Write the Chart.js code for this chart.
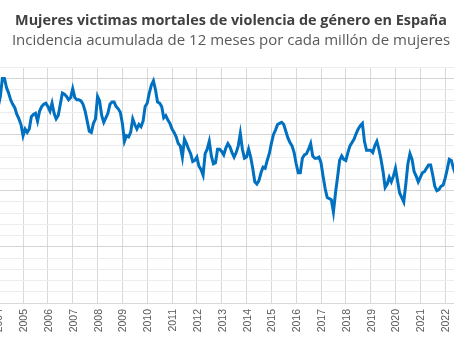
<!DOCTYPE html>
<html lang="es">
<head>
<meta charset="utf-8">
<script src="https://cdn.jsdelivr.net/npm/chart.js@4.4.1/dist/chart.umd.min.js"></script>
<style>
  html, body { margin: 0; padding: 0; background: #fff; }
  /* the reference is a crop of a wider chart: draw it wider and clip */
  #frame { position: relative; width: 454px; height: 341px; overflow: hidden; }
  #wrap { position: absolute; left: -39px; top: 0; width: 540px; height: 341px; }
  .anio {
    position: absolute; white-space: nowrap;
    font: 10.5px "Liberation Sans", Arial, sans-serif; line-height: 12px; color: #595959;
    transform-origin: 0 0; transform: rotate(-90deg) translate(-100%, -50%);
  }
</style>
</head>
<body>
<div id="frame"><div id="wrap"><canvas id="chart"></canvas></div></div>
<script>
const titulo = 'Mujeres victimas mortales de violencia de género en España';
const subtitulo = 'Incidencia acumulada de 12 meses por cada millón de mujeres';

// monthly series, first value = January 2004
const anioInicio = 2004;
const incidencia = [
  2.75, 2.84, 3.00, 3.00, 2.92, 2.87, 2.81, 2.77, 2.74, 2.68, 2.64, 2.59, // 2004
  2.49, 2.55, 2.52, 2.55, 2.66, 2.68, 2.69, 2.62, 2.71, 2.75, 2.77, 2.78, // 2005
  2.75, 2.71, 2.78, 2.69, 2.64, 2.67, 2.77, 2.87, 2.86, 2.84, 2.81, 2.83, // 2006
  2.91, 2.83, 2.81, 2.81, 2.80, 2.77, 2.71, 2.62, 2.53, 2.52, 2.60, 2.64, // 2007
  2.84, 2.80, 2.67, 2.61, 2.65, 2.69, 2.77, 2.79, 2.79, 2.75, 2.73, 2.70, // 2008
  2.60, 2.44, 2.49, 2.48, 2.52, 2.64, 2.59, 2.55, 2.59, 2.57, 2.62, 2.75, // 2009
  2.78, 2.87, 2.94, 2.98, 2.90, 2.79, 2.78, 2.75, 2.65, 2.67, 2.63, 2.60, // 2010
  2.55, 2.52, 2.48, 2.42, 2.40, 2.30, 2.46, 2.42, 2.37, 2.33, 2.26, 2.27, // 2011
  2.30, 2.22, 2.19, 2.14, 2.33, 2.37, 2.44, 2.31, 2.24, 2.25, 2.37, 2.37, // 2012
  2.35, 2.32, 2.38, 2.42, 2.39, 2.34, 2.30, 2.34, 2.40, 2.51, 2.37, 2.29, // 2013
  2.30, 2.37, 2.30, 2.20, 2.08, 2.06, 2.09, 2.16, 2.21, 2.20, 2.27, 2.33, // 2014
  2.42, 2.50, 2.54, 2.59, 2.60, 2.61, 2.59, 2.53, 2.47, 2.43, 2.40, 2.34, // 2015
  2.24, 2.16, 2.16, 2.29, 2.32, 2.33, 2.37, 2.42, 2.31, 2.29, 2.29, 2.30, // 2016
  2.25, 2.13, 2.02, 1.94, 1.93, 1.92, 1.81, 1.98, 2.12, 2.27, 2.31, 2.28, // 2017
  2.27, 2.34, 2.40, 2.43, 2.46, 2.51, 2.55, 2.58, 2.60, 2.44, 2.36, 2.36, // 2018
  2.36, 2.34, 2.40, 2.44, 2.37, 2.28, 2.17, 2.03, 2.06, 2.12, 2.08, 2.13, // 2019
  2.20, 2.09, 1.98, 1.94, 1.90, 2.06, 2.24, 2.33, 2.28, 2.17, 2.13, 2.08, // 2020
  2.12, 2.16, 2.17, 2.20, 2.23, 2.23, 2.14, 2.04, 2.00, 2.01, 2.04, 2.05, // 2021
  2.11, 2.19, 2.28, 2.27, 2.20, 2.15                                      // 2022
];

// axis ranges
const ejeX = { min: 2002.5, max: 2024.25, paso: 1 };
const ejeY = { min: 1.0, max: 3.1, paso: 0.1, mayor: 0.5 };

const puntos = incidencia.map((v, i) => ({ x: anioInicio + i / 12, y: v }));
const esMayor = v => Math.abs(v / ejeY.mayor - Math.round(v / ejeY.mayor)) < 1e-6;

const chart = new Chart(document.getElementById('chart'), {
  type: 'line',
  data: {
    datasets: [{
      label: 'Incidencia',
      data: puntos,
      borderColor: '#0070C0',
      borderWidth: 3,
      pointRadius: 0,
      tension: 0,
      fill: false
    }]
  },
  options: {
    responsive: true, maintainAspectRatio: false,
    animation: false,
    layout: { padding: { top: 0, bottom: 38, left: 0, right: 0 } },
    plugins: {
      legend: { display: false },
      tooltip: { enabled: false },
      title: {
        display: true, text: titulo, color: '#404040',
        font: { family: 'Open Sans', size: 14.4, weight: 'bold' },
        padding: { top: 12, bottom: 2 }
      },
      subtitle: {
        display: true, text: subtitulo, color: '#595959',
        font: { family: 'Open Sans', size: 15 },
        padding: { top: 0, bottom: 18 }
      }
    },
    scales: {
      x: {
        type: 'linear', min: ejeX.min, max: ejeX.max,
        afterFit: s => { s.paddingLeft = 0; s.paddingRight = 0; },
        ticks: { stepSize: ejeX.paso, includeBounds: false, display: false },
        grid: { color: '#d9d9d9', drawTicks: false },
        border: { color: '#d9d9d9' }
      },
      y: {
        min: ejeY.min, max: ejeY.max,
        ticks: { display: false, stepSize: ejeY.paso },
        grid: { drawTicks: false, color: ctx => esMayor(ctx.tick.value) ? '#d4d4d4' : '#ececec' },
        border: { display: false }
      }
    }
  }
});

// year labels under the axis, vertical (read bottom to top), placed with the x scale
const wrap = document.getElementById('wrap');
const sx = chart.scales.x;
for (const t of sx.ticks) {
  const el = document.createElement('span');
  el.className = 'anio';
  el.textContent = String(t.value);
  el.style.left = sx.getPixelForValue(t.value) + 'px';
  el.style.top = (sx.top + 6) + 'px';
  wrap.appendChild(el);
}
</script>
</body>
</html>
